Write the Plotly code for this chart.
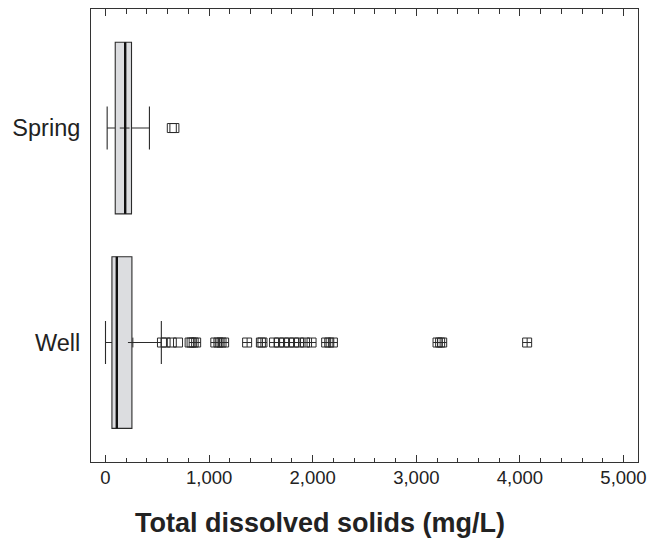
import plotly.graph_objects as go

# Summary statistics of total dissolved solids (mg/L) by source type
sources = ["Well", "Spring"]
positions = [0, 1]
lower_whisker = [0, 16]
q1 = [62, 94]
median = [109, 190]
q3 = [255, 251]
upper_whisker = [539, 424]
mean = [264, 185]

# Outlying values (open squares) and far-outlying values (crossed squares)
well_outside = [545, 580, 640, 700, 812, 831]
well_far_outside = [851, 875, 1060, 1090, 1120, 1145, 1367, 1500, 1515,
                    1627, 1675, 1724, 1772, 1820, 1868, 1926, 1989,
                    2130, 2160, 2195, 3205, 3230, 3250, 4070]
spring_outside = [640, 665]

x_ticks = [0, 1000, 2000, 3000, 4000, 5000]

box_fill = "#dcdde0"
ink = "#2b2b2b"

fig = go.Figure()

for i, name in enumerate(sources):
    fig.add_trace(go.Box(
        orientation="h",
        name=name,
        y=[positions[i]],
        q1=[q1[i]], median=[median[i]], q3=[q3[i]],
        lowerfence=[lower_whisker[i]], upperfence=[upper_whisker[i]],
        width=0.8,
        whiskerwidth=0.25,
        boxpoints=False,
        fillcolor=box_fill,
        line=dict(color=ink, width=1.1),
        showlegend=False,
        hoverinfo="skip",
    ))
    # heavier median line
    fig.add_shape(type="line", xref="x", yref="y",
                  x0=median[i], x1=median[i],
                  y0=positions[i] - 0.4, y1=positions[i] + 0.4,
                  line=dict(color="#111111", width=2.4))

# mean markers
fig.add_trace(go.Scatter(
    x=mean, y=positions, mode="markers",
    marker=dict(symbol="cross-thin", size=7, line=dict(color=ink, width=1)),
    showlegend=False, hoverinfo="skip",
))

outlier_sets = [
    (well_outside, 0, "square-open"),
    (well_far_outside, 0, "square-cross-open"),
    (spring_outside, 1, "square-open"),
]
for values, pos, symbol in outlier_sets:
    fig.add_trace(go.Scatter(
        x=values, y=[pos] * len(values), mode="markers",
        marker=dict(symbol=symbol, size=9, color=ink,
                    line=dict(color=ink, width=1)),
        showlegend=False, hoverinfo="skip",
    ))

fig.update_layout(
    width=658, height=544,
    margin=dict(l=91, r=20, t=9, b=82),
    paper_bgcolor="white", plot_bgcolor="white",
    font=dict(family="Liberation Sans, Arial, sans-serif", color="#222222"),
    xaxis=dict(
        range=[-140, 5140],
        tickvals=x_ticks,
        tickformat=",d",
        ticks="inside", ticklen=7, tickwidth=1, tickcolor="#333333",
        minor=dict(dtick=200, ticks="inside", ticklen=4.5, tickwidth=1,
                   tickcolor="#333333"),
        showline=True, linecolor="#333333", linewidth=1, mirror="ticks",
        showgrid=False, zeroline=False,
        tickfont=dict(size=18.5),
        ticklabelstandoff=-1,
    ),
    yaxis=dict(
        range=[-0.557, 1.555],
        tickvals=positions, ticktext=sources,
        ticks="", showline=True, linecolor="#333333", linewidth=1, mirror=True,
        showgrid=False, zeroline=False,
        tickfont=dict(size=23.5),
        ticklabelstandoff=5,
    ),
    annotations=[dict(
        text="<b>Total dissolved solids (mg/L)</b>",
        xref="paper", yref="paper", x=0.419, y=-0.135,
        xanchor="center", yanchor="middle", showarrow=False,
        font=dict(size=27, color="#222222"),
    )],
)

fig.write_html("out.html")
